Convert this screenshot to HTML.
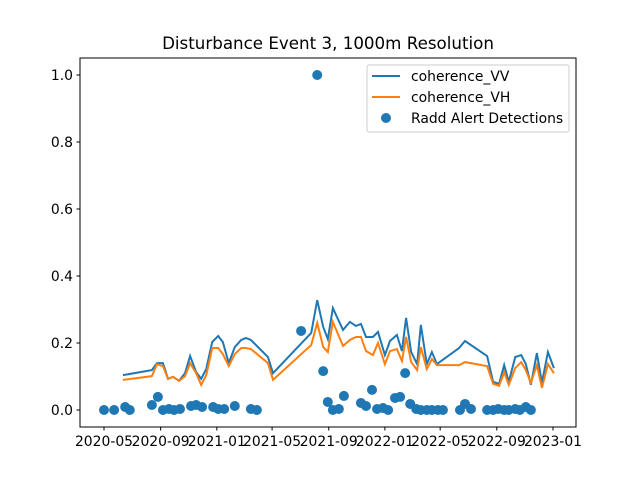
<!DOCTYPE html>
<html><head><meta charset="utf-8"><style>body{margin:0;background:#fff}svg{display:block;font-family:"DejaVu Sans","Liberation Sans",sans-serif}</style></head>
<body>
<svg id="chart" width="640" height="480" xmlns="http://www.w3.org/2000/svg">
<rect width="640" height="480" fill="#fff"/>
<text x="328" y="49" font-size="16.7" text-anchor="middle">Disturbance Event 3, 1000m Resolution</text>
<g id="plot"></g>
<rect x="80" y="58" width="496" height="369" fill="none" stroke="#000" stroke-width="1"/>
<g>
<rect x="367" y="65" width="202" height="67" rx="2" fill="#fff" fill-opacity="0.8" stroke="#ccc"/>
<g><line x1="372" y1="76" x2="400" y2="76" stroke="#1f77b4" stroke-width="2"/><text x="411" y="81" font-size="13.9">coherence_VV</text></g>
<g><line x1="372" y1="97" x2="400" y2="97" stroke="#ff7f0e" stroke-width="2"/><text x="411" y="102" font-size="13.9">coherence_VH</text></g>
<g><circle cx="386" cy="118" r="5" fill="#1f77b4"/><text x="411" y="123" font-size="13.9">Radd Alert Detections</text></g>
</g>
</svg>
<script>
const lineDays=[41,104,115,128,139,150,163,176,187,200,211,222,235,248,258,271,284,298,308,319,356,367,450,463,476,486,497,519,534,547,558,569,584,595,610,621,636,647,656,667,680,688,701,712,723,771,784,832,845,858,869,879,893,906,916,927,940,951,964,977];
const vv=[.104,.119,.140,.140,.093,.099,.087,.110,.161,.113,.093,.122,.203,.221,.203,.140,.188,.209,.215,.209,.158,.110,.230,.328,.248,.212,.304,.239,.263,.251,.257,.218,.218,.233,.164,.206,.224,.176,.275,.173,.137,.254,.137,.173,.137,.185,.206,.161,.084,.078,.134,.084,.158,.164,.137,.075,.170,.081,.173,.125];
const vh=[.090,.101,.137,.131,.093,.099,.087,.101,.140,.110,.075,.104,.185,.185,.167,.131,.167,.185,.185,.182,.140,.090,.194,.260,.188,.173,.263,.191,.209,.218,.218,.176,.164,.200,.137,.176,.182,.146,.218,.143,.119,.188,.122,.152,.134,.134,.143,.131,.078,.072,.113,.075,.125,.143,.119,.081,.134,.066,.137,.110];
const raddDays=[0,22,46,56,104,117,128,141,152,165,189,200,213,237,248,261,284,319,332,428,463,476,486,497,510,521,558,569,582,593,606,617,632,643,654,665,678,688,701,712,725,736,773,784,797,832,845,856,869,879,893,903,916,927];
const radd=[0,0,.009,0,.015,.039,0,.003,0,.003,.012,.015,.009,.009,.003,.003,.012,.003,0,.236,1.0,.116,.024,0,.003,.042,.021,.012,.060,.003,.006,0,.036,.039,.110,.018,.003,0,0,0,0,0,0,.018,.003,0,0,.003,0,0,.003,0,.009,0];
const xTickDays=[0,123,245,365,488,610,730,853,975];
const xTickLabels=["2020-05","2020-09","2021-01","2021-05","2021-09","2022-01","2022-05","2022-09","2023-01"];
const yTicks=[0,0.2,0.4,0.6,0.8,1.0];
const yTickLabels=["0.0","0.2","0.4","0.6","0.8","1.0"];
const X=d=>104+d*0.4605;
const Y=v=>410-v*335;
const NS="http://www.w3.org/2000/svg";
const g=document.getElementById('plot');
function mk(t,a){const e=document.createElementNS(NS,t);for(const k in a)e.setAttribute(k,a[k]);g.appendChild(e);return e;}
xTickDays.forEach((d,i)=>{
 const t=mk('line',{x1:X(d),x2:X(d),y1:427,y2:430.5,stroke:'#000'});
 
 
 const l=mk('text',{x:X(d),y:446,'font-size':13.9,'text-anchor':'middle'});l.textContent=xTickLabels[i];
 
 
});
yTicks.forEach((v,i)=>{
 const t=mk('line',{x1:76.5,x2:80,y1:Y(v),y2:Y(v),stroke:'#000'});
 
 
 const l=mk('text',{x:73,y:Y(v)+5,'font-size':13.9,'text-anchor':'end'});l.textContent=yTickLabels[i];
 
 
});
const p1=mk('polyline',{points:lineDays.map((d,i)=>X(d)+','+Y(vv[i])).join(' '),fill:'none',stroke:'#1f77b4','stroke-width':2});


const p2=mk('polyline',{points:lineDays.map((d,i)=>X(d)+','+Y(vh[i])).join(' '),fill:'none',stroke:'#ff7f0e','stroke-width':2});


raddDays.forEach((d,i)=>{
 const c=mk('circle',{cx:X(d),cy:Y(radd[i]),r:5,fill:'#1f77b4'});
 
 
});
</script>
</body></html>
